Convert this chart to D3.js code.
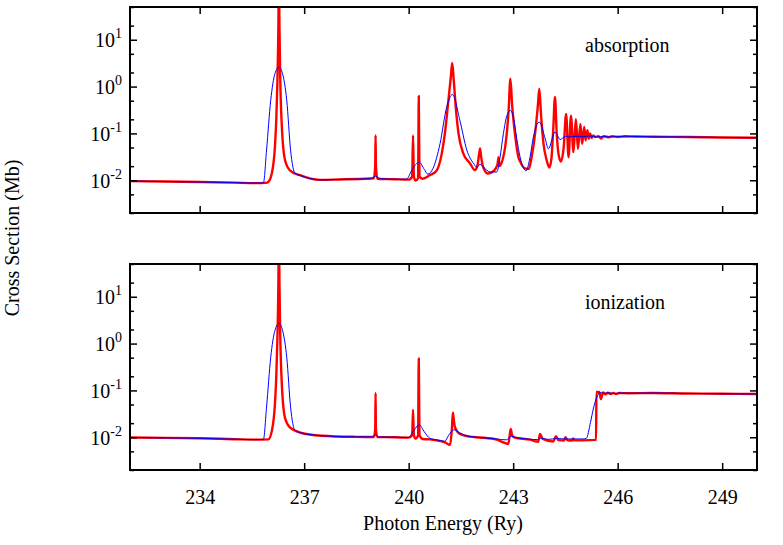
<!DOCTYPE html>
<html><head><meta charset="utf-8">
<script src="https://cdn.jsdelivr.net/npm/d3@7"></script>
<style>
body{margin:0;background:#fff;}
svg text{font-family:"Liberation Serif","Times New Roman",serif;fill:#000;}
</style></head>
<body><svg id="c" width="783" height="545"></svg>
<script>
// ---- data ----
const xTicks = [234, 237, 240, 243, 246, 249];
const yMajorTicks = [0.01, 0.1, 1, 10];
const yMajorLabels = ["-2", "-1", "0", "1"];
const yMinorTicks = [0.002, 0.005, 0.02, 0.05, 0.2, 0.5, 2, 5, 20, 50];
const panelLabels = ["absorption", "ionization"];

const absRed = [
[232.0,0.0096],[233.0,0.0094],[234.0,0.0092],[235.0,0.0089],[235.6,0.0087],[235.9,0.0088],
[235.97,0.0092],[236.07,0.0139],[236.16,0.051],[236.2,0.2],[236.23,1.15],[236.26,20],[236.275,300],
[236.29,20],[236.31,2.0],[236.36,0.137],[236.45,0.027],[236.59,0.0163],[236.88,0.0128],[237.45,0.0102],
[238.0,0.0104],[238.9,0.0109],[239.0,0.011],[239.04,0.02],[239.05,0.091],[239.06,0.02],[239.1,0.0108],
[239.6,0.0105],[240.0,0.0103],[240.1,0.012],[240.125,0.09],[240.15,0.012],[240.2,0.0098],[240.27,0.011],
[240.29,0.63],[240.31,0.012],[240.4,0.0108],[240.6,0.0128],[240.8,0.016],[240.95,0.037],[241.04,0.1],
[241.14,0.5],[241.21,1.6],[241.25,3.2],[241.29,1.5],[241.36,0.31],[241.43,0.1],[241.57,0.037],
[241.76,0.023],[241.9,0.0165],[241.97,0.02],[242.02,0.035],[242.05,0.048],[242.08,0.032],[242.14,0.019],
[242.28,0.0139],[242.45,0.016],[242.55,0.022],[242.58,0.031],[242.61,0.02],[242.7,0.028],[242.77,0.051],
[242.87,0.31],[242.92,1.47],[242.97,0.4],[243.05,0.1],[243.15,0.031],[243.2,0.025],[243.34,0.018],
[243.45,0.0175],[243.53,0.031],[243.63,0.1],[243.71,0.4],[243.75,0.9],[243.8,0.25],[243.87,0.061],
[243.96,0.027],[244.04,0.0187],[244.1,0.03],[244.15,0.12],[244.2,0.6],[244.25,0.1],[244.3,0.037],
[244.37,0.025],[244.45,0.05],[244.52,0.26],[244.59,0.031],[244.66,0.24],[244.73,0.04],[244.8,0.2],
[244.86,0.047],[244.93,0.16],[244.98,0.06],[245.04,0.137],[245.08,0.071],[245.13,0.117],[245.17,0.077],
[245.21,0.1],[245.25,0.08],[245.3,0.09],[245.35,0.084],[245.45,0.087],[245.52,0.078],[245.6,0.087],
[245.75,0.083],[245.85,0.087],[246.0,0.084],[246.2,0.087],[246.5,0.086],[247.0,0.085],[248.0,0.084],
[249.0,0.082],[250.0,0.081]
];
const absBlue = [
[232.0,0.0096],[233.0,0.0094],[234.0,0.0092],[235.0,0.0089],[235.6,0.0087],[235.83,0.0088],
[235.92,0.044],[236.04,0.51],[236.16,1.88],[236.28,2.6],[236.38,1.88],[236.5,0.51],[236.61,0.044],
[236.74,0.0139],[236.9,0.0125],[237.45,0.0102],[238.0,0.0104],[238.9,0.0108],[239.05,0.0122],
[239.2,0.0108],[239.6,0.0105],[239.94,0.0106],[240.1,0.017],[240.3,0.0245],[240.45,0.017],
[240.55,0.0135],[240.7,0.018],[240.9,0.06],[241.09,0.36],[241.26,0.68],[241.47,0.19],[241.67,0.044],
[241.86,0.023],[241.96,0.019],[242.05,0.022],[242.15,0.019],[242.34,0.015],[242.53,0.015],
[242.62,0.03],[242.72,0.1],[242.82,0.24],[242.92,0.31],[243.02,0.2],[243.1,0.08],[243.2,0.031],
[243.37,0.016],[243.48,0.03],[243.58,0.084],[243.75,0.175],[243.92,0.077],[244.01,0.047],
[244.2,0.107],[244.35,0.074],[244.5,0.087],[244.6,0.084],[244.8,0.087],[245.0,0.085],[245.2,0.088],
[245.4,0.084],[245.6,0.087],[245.8,0.084],[246.0,0.087],[246.2,0.085],[246.5,0.086],[247.0,0.085],
[248.0,0.084],[249.0,0.082],[250.0,0.081]
];
const ionRed = [
[232.0,0.0099],[233.0,0.0097],[234.0,0.0095],[235.0,0.0091],[235.6,0.0089],[235.97,0.009],
[236.07,0.0135],[236.16,0.05],[236.2,0.2],[236.23,1.15],[236.26,20],[236.275,300],[236.29,20],
[236.31,2.0],[236.36,0.13],[236.45,0.026],[236.6,0.016],[236.9,0.0125],[237.5,0.0108],[238.5,0.0102],
[239.0,0.0101],[239.04,0.015],[239.05,0.088],[239.06,0.015],[239.1,0.0101],[239.6,0.01],[240.0,0.0098],
[240.1,0.011],[240.125,0.039],[240.15,0.011],[240.2,0.0094],[240.27,0.011],[240.29,0.48],[240.31,0.011],
[240.4,0.0092],[240.6,0.009],[240.8,0.0086],[241.04,0.0078],[241.19,0.0069],[241.24,0.015],
[241.27,0.034],[241.3,0.022],[241.33,0.0163],[241.47,0.0118],[241.76,0.0103],[242.05,0.0099],
[242.53,0.0089],[242.86,0.0072],[242.9,0.011],[242.93,0.015],[242.97,0.011],[243.05,0.0098],
[243.48,0.0089],[243.68,0.0081],[243.72,0.008],[243.77,0.0117],[243.85,0.0092],[244.15,0.0081],
[244.23,0.0105],[244.3,0.0087],[244.46,0.0085],[244.5,0.01],[244.56,0.0086],[244.7,0.0085],
[244.72,0.0094],[244.76,0.0086],[245.0,0.0086],[245.38,0.0088],[245.39,0.093],[245.47,0.093],
[245.52,0.065],[245.58,0.09],[245.65,0.083],[245.72,0.089],[245.8,0.084],[245.88,0.088],[245.95,0.084],
[246.05,0.088],[246.3,0.087],[247.0,0.088],[248.0,0.086],[249.0,0.085],[250.0,0.084]
];
const ionBlue = [
[232.0,0.0099],[233.0,0.0097],[234.0,0.0095],[235.0,0.0091],[235.6,0.0089],[235.83,0.009],
[235.92,0.044],[236.04,0.51],[236.16,1.9],[236.28,2.7],[236.38,1.9],[236.5,0.51],[236.61,0.044],
[236.74,0.0139],[236.9,0.0125],[237.5,0.0108],[238.5,0.0102],[238.95,0.0102],[239.05,0.0112],
[239.15,0.0101],[239.6,0.01],[239.99,0.0099],[240.15,0.014],[240.3,0.0185],[240.45,0.013],
[240.61,0.0095],[240.8,0.0088],[241.04,0.0082],[241.14,0.0108],[241.31,0.0145],[241.47,0.0123],
[241.76,0.0103],[242.05,0.0099],[242.53,0.0092],[242.8,0.0088],[242.95,0.0105],[243.1,0.0098],
[243.48,0.0091],[243.7,0.0089],[243.8,0.0096],[244.0,0.009],[244.25,0.0094],[244.5,0.0092],
[245.0,0.0092],[245.1,0.0095],[245.22,0.0208],[245.3,0.04],[245.4,0.071],[245.49,0.09],[245.6,0.087],
[245.75,0.089],[245.9,0.086],[246.05,0.088],[246.3,0.087],[247.0,0.088],[248.0,0.086],[249.0,0.085],
[250.0,0.084]
];

// ---- drawing ----
const svg = d3.select("#c");
const L = 130, R = 757;
const x = d3.scaleLinear().domain([232, 250]).range([L, R]);
const panels = [
  {top: 7, bottom: 213, red: absRed, blue: absBlue, label: panelLabels[0], showX: false},
  {top: 264, bottom: 470, red: ionRed, blue: ionBlue, label: panelLabels[1], showX: true}
];

panels.forEach((p, i) => {
  const y = d3.scaleLog().domain([0.002, 50]).range([p.bottom, p.top]);
  const g = svg.append("g");
  const cid = "clip" + i;
  svg.append("clipPath").attr("id", cid).append("rect")
    .attr("x", L).attr("y", p.top).attr("width", R - L).attr("height", p.bottom - p.top);

  const line = d3.line().x(d => x(d[0])).y(d => y(d[1])).curve(d3.curveMonotoneX);
  const lg = g.append("g").attr("clip-path", `url(#${cid})`);
  lg.append("path").datum(p.red).attr("d", line)
    .attr("fill", "none").attr("stroke", "#ff0000").attr("stroke-width", 2.4).attr("stroke-linejoin", "round");
  lg.append("path").datum(p.blue).attr("d", line)
    .attr("fill", "none").attr("stroke", "#0000ff").attr("stroke-width", 1).attr("stroke-linejoin", "round");

  const mk = (ax, tr) => {
    const a = g.append("g").attr("transform", tr).call(ax);
    a.select(".domain").remove();
    a.selectAll(".tick line").attr("stroke", "#000").attr("stroke-width", 1.5);
    return a;
  };
  const yl = mk(d3.axisLeft(y).tickValues(yMajorTicks).tickSize(-7).tickFormat(""), `translate(${L},0)`);
  mk(d3.axisLeft(y).tickValues(yMinorTicks).tickSize(-4).tickFormat(""), `translate(${L},0)`);
  mk(d3.axisRight(y).tickValues(yMajorTicks).tickSize(-7).tickFormat(""), `translate(${R},0)`);
  mk(d3.axisRight(y).tickValues(yMinorTicks).tickSize(-4).tickFormat(""), `translate(${R},0)`);
  const xb = mk(d3.axisBottom(x).tickValues(xTicks).tickSize(-7).tickFormat(""), `translate(0,${p.bottom})`);
  mk(d3.axisTop(x).tickValues(xTicks).tickSize(-7).tickFormat(""), `translate(0,${p.top})`);

  yl.selectAll(".tick").each(function(d, k) {
    const t = d3.select(this).append("text")
      .attr("x", -8).attr("y", 7).attr("text-anchor", "end").style("font-size", "20px");
    t.append("tspan").text("10");
    t.append("tspan").attr("dy", -9).style("font-size", "14px").text(yMajorLabels[k]);
  });
  if (p.showX) {
    xb.selectAll(".tick").append("text").attr("y", 34).attr("text-anchor", "middle")
      .style("font-size", "20px").text(d => d);
  }
  g.append("rect").attr("x", L).attr("y", p.top).attr("width", R - L).attr("height", p.bottom - p.top)
    .attr("fill", "none").attr("stroke", "#000").attr("stroke-width", 2);
  g.append("text").attr("x", 585).attr("y", p.top + 45).style("font-size", "20px").text(p.label);
});

svg.append("text").attr("x", 443).attr("y", 530).attr("text-anchor", "middle")
  .style("font-size", "20px").text("Photon Energy (Ry)");
svg.append("text").attr("transform", "translate(19,238) rotate(-90)").attr("text-anchor", "middle")
  .style("font-size", "20px").text("Cross Section (Mb)");
</script></body></html>
